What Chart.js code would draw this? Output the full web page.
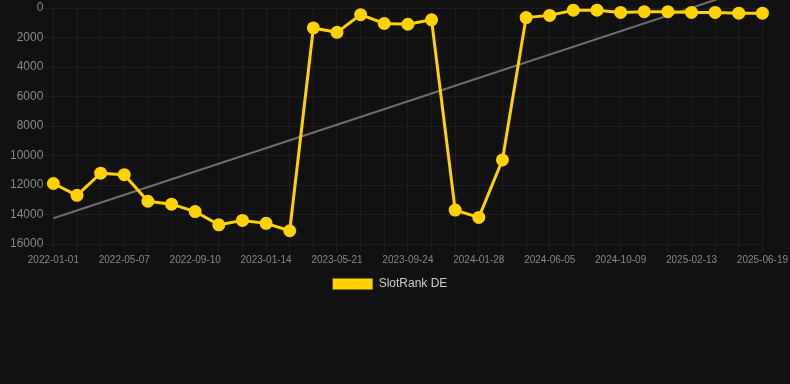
<!DOCTYPE html>
<html>
<head>
<meta charset="utf-8">
<script src="https://cdn.jsdelivr.net/npm/chart.js@4"></script>
<style>
  html, body { margin: 0; padding: 0; background: #111111; }
  #wrap { position: relative; width: 790px; height: 300px; }
</style>
</head>
<body>
<div id="wrap"><canvas id="chart"></canvas></div>
<script>
// ── Data ──
const dates = [
  '2022-01-01', '2022-02-12', '2022-03-26', '2022-05-07', '2022-06-18', '2022-07-30',
  '2022-09-10', '2022-10-22', '2022-12-03', '2023-01-14', '2023-02-25', '2023-04-08',
  '2023-05-21', '2023-07-02', '2023-08-13', '2023-09-24', '2023-11-05', '2023-12-17',
  '2024-01-28', '2024-03-10', '2024-04-22', '2024-06-05', '2024-07-17', '2024-08-28',
  '2024-10-09', '2024-11-20', '2025-01-01', '2025-02-13', '2025-03-27', '2025-05-08',
  '2025-06-19'
];
const slotRank = [
  11900, 12700, 11200, 11300, 13100, 13300, 13800, 14700, 14400, 14600,
  15100, 1350, 1650, 450, 1050, 1100, 800, 13700, 14200, 10300,
  650, 500, 150, 150, 300, 250, 250, 300, 300, 350, 350
];
// trend line end points (first and last category)
const trendStart = 14250;
const trendEnd = -1600;
const yTicks = [0, 2000, 4000, 6000, 8000, 10000, 12000, 14000, 16000];

const trend = dates.map(function(d, i) {
  if (i === 0) return trendStart;
  if (i === dates.length - 1) return trendEnd;
  return null;
});

const YELLOW = '#FFD200';
const FONT = 'Arial, "Liberation Sans", sans-serif';

// nudge the legend a little to the left, like the original
const legendShift = {
  id: 'legendShift',
  afterUpdate: function(chart) {
    const lg = chart.legend;
    if (!lg) return;
    lg.left -= 8;
    lg.right -= 8;
    lg.adjustHitBoxes();
  }
};

new Chart(document.getElementById('chart'), {
  type: 'line',
  data: {
    labels: dates,
    datasets: [
      {
        label: 'SlotRank DE',
        data: slotRank,
        borderColor: YELLOW,
        backgroundColor: YELLOW,
        borderWidth: 3,
        pointRadius: 5,
        pointHoverRadius: 5,
        pointBackgroundColor: YELLOW,
        pointBorderColor: YELLOW,
        tension: 0,
        clip: false
      },
      {
        label: 'trend',
        data: trend,
        borderColor: 'rgba(120,120,120,0.9)',
        borderWidth: 2,
        pointRadius: 0,
        spanGaps: true,
        fill: false,
        clip: false
      }
    ]
  },
  options: {
    responsive: true,
    maintainAspectRatio: false,
    animation: false,
    layout: { padding: { left: 10, right: 4, top: 0, bottom: 0 } },
    plugins: {
      legend: {
        position: 'bottom',
        labels: {
          color: '#cccccc',
          font: { family: FONT, size: 12 },
          boxWidth: 40,
          boxHeight: 11,
          generateLabels: function(chart) {
            return Chart.defaults.plugins.legend.labels.generateLabels(chart)
              .filter(function(item) { return item.text === 'SlotRank DE'; })
              .map(function(item) { item.lineWidth = 0; return item; });
          }
        }
      },
      tooltip: { enabled: false }
    },
    scales: {
      y: {
        reverse: true,
        min: 0,
        max: 16000,
        afterBuildTicks: function(axis) {
          axis.ticks = yTicks.map(function(v) { return { value: v }; });
        },
        ticks: {
          color: '#888888',
          font: { family: FONT, size: 12 },
          padding: 0,
          callback: function(value) { return String(value); }
        },
        grid: { color: 'rgba(255,255,255,0.05)', tickLength: 10 },
        border: { display: false }
      },
      x: {
        ticks: {
          color: '#888888',
          font: { family: FONT, size: 10 },
          autoSkip: false,
          maxRotation: 0,
          padding: 2,
          callback: function(value, index) {
            return index % 3 === 0 ? dates[index] : '';
          }
        },
        grid: { color: 'rgba(255,255,255,0.05)' },
        border: { display: false }
      }
    }
  },
  plugins: [legendShift]
});
</script>
</body>
</html>
